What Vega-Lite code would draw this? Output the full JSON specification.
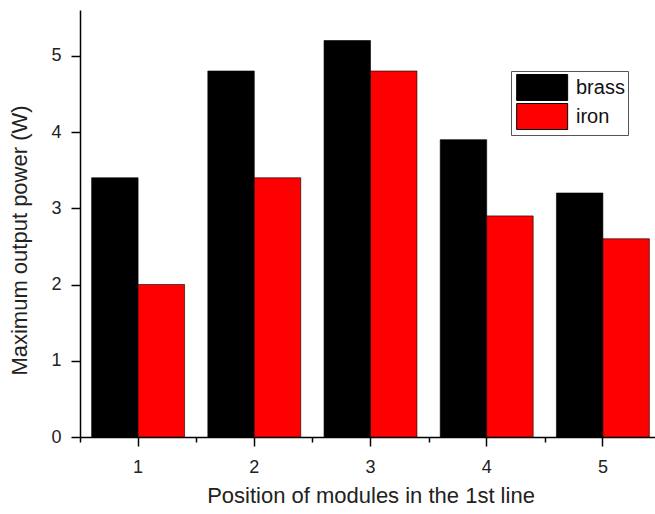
{
  "$schema": "https://vega.github.io/schema/vega-lite/v6.json",
  "width": 575,
  "height": 427,
  "autosize": {"type": "none"},
  "padding": {"left": 80, "top": 10, "right": 0, "bottom": 77},
  "background": "white",
  "config": {
    "view": {"stroke": null},
    "font": "Liberation Sans",
    "axis": {
      "domainColor": "#000",
      "domainWidth": 1.5,
      "tickColor": "#000",
      "tickWidth": 1.5,
      "labelColor": "#222",
      "titleColor": "#222",
      "labelFont": "Liberation Sans",
      "titleFont": "Liberation Sans",
      "labelFontSize": 18,
      "titleFontSize": 22,
      "titleFontWeight": "normal",
      "grid": false
    }
  },
  "data": {
    "values": [
      {"pos": "1", "material": "brass", "power": 3.4},
      {"pos": "1", "material": "iron", "power": 2.0},
      {"pos": "2", "material": "brass", "power": 4.8},
      {"pos": "2", "material": "iron", "power": 3.4},
      {"pos": "3", "material": "brass", "power": 5.2},
      {"pos": "3", "material": "iron", "power": 4.8},
      {"pos": "4", "material": "brass", "power": 3.9},
      {"pos": "4", "material": "iron", "power": 2.9},
      {"pos": "5", "material": "brass", "power": 3.2},
      {"pos": "5", "material": "iron", "power": 2.6}
    ]
  },
  "layer": [
    {
      "mark": {"type": "bar", "stroke": "#000", "strokeWidth": 0.6, "clip": false},
      "encoding": {
        "x": {
          "field": "pos", "type": "ordinal",
          "scale": {"range": [0, 581], "paddingInner": 0.2, "paddingOuter": 0.1},
          "axis": {
            "orient": "bottom", "labelAngle": 0, "tickSize": 9, "labelPadding": 12,
            "title": "Position of modules in the 1st line", "titlePadding": 9
          }
        },
        "xOffset": {"field": "material", "type": "nominal", "scale": {"paddingInner": 0, "paddingOuter": 0}},
        "y": {
          "field": "power", "type": "quantitative",
          "scale": {"domain": [0, 5.6], "nice": false, "zero": true},
          "axis": {
            "orient": "left",
            "values": [0, 0.5, 1, 1.5, 2, 2.5, 3, 3.5, 4, 4.5, 5, 5.5],
            "labelExpr": "datum.value % 1 === 0 ? format(datum.value, 'd') : ''",
            "tickSize": {"condition": {"test": "datum.value % 1 === 0", "value": 9}, "value": 5},
            "labelPadding": 10,
            "title": "Maximum output power (W)", "titlePadding": 19, "titleY": 230
          }
        },
        "color": {
          "field": "material", "type": "nominal",
          "scale": {"domain": ["brass", "iron"], "range": ["#000000", "#ff0000"]},
          "legend": {
            "orient": "none", "legendX": 431, "legendY": 61, "title": null,
            "symbolType": "M-0.85,-1.02H3.15V1.02H-0.85Z", "symbolSize": 650,
            "symbolStrokeColor": "#000", "symbolStrokeWidth": 1,
            "labelFontSize": 20, "labelFont": "Liberation Sans", "labelColor": "#111", "labelOffset": 35,
            "rowPadding": -12, "strokeColor": "#555", "padding": 3, "fillColor": "white"
          }
        }
      }
    },
    {
      "mark": {"type": "bar", "opacity": 0},
      "encoding": {
        "x": {
          "field": "pos", "type": "ordinal",
          "axis": {"orient": "bottom", "labels": false, "title": null, "domain": false, "tickSize": 5, "bandPosition": 0, "tickOffset": -11.62}
        },
        "y": {"field": "power", "type": "quantitative"}
      }
    }
  ],
  "resolve": {"axis": {"x": "independent"}}
}
